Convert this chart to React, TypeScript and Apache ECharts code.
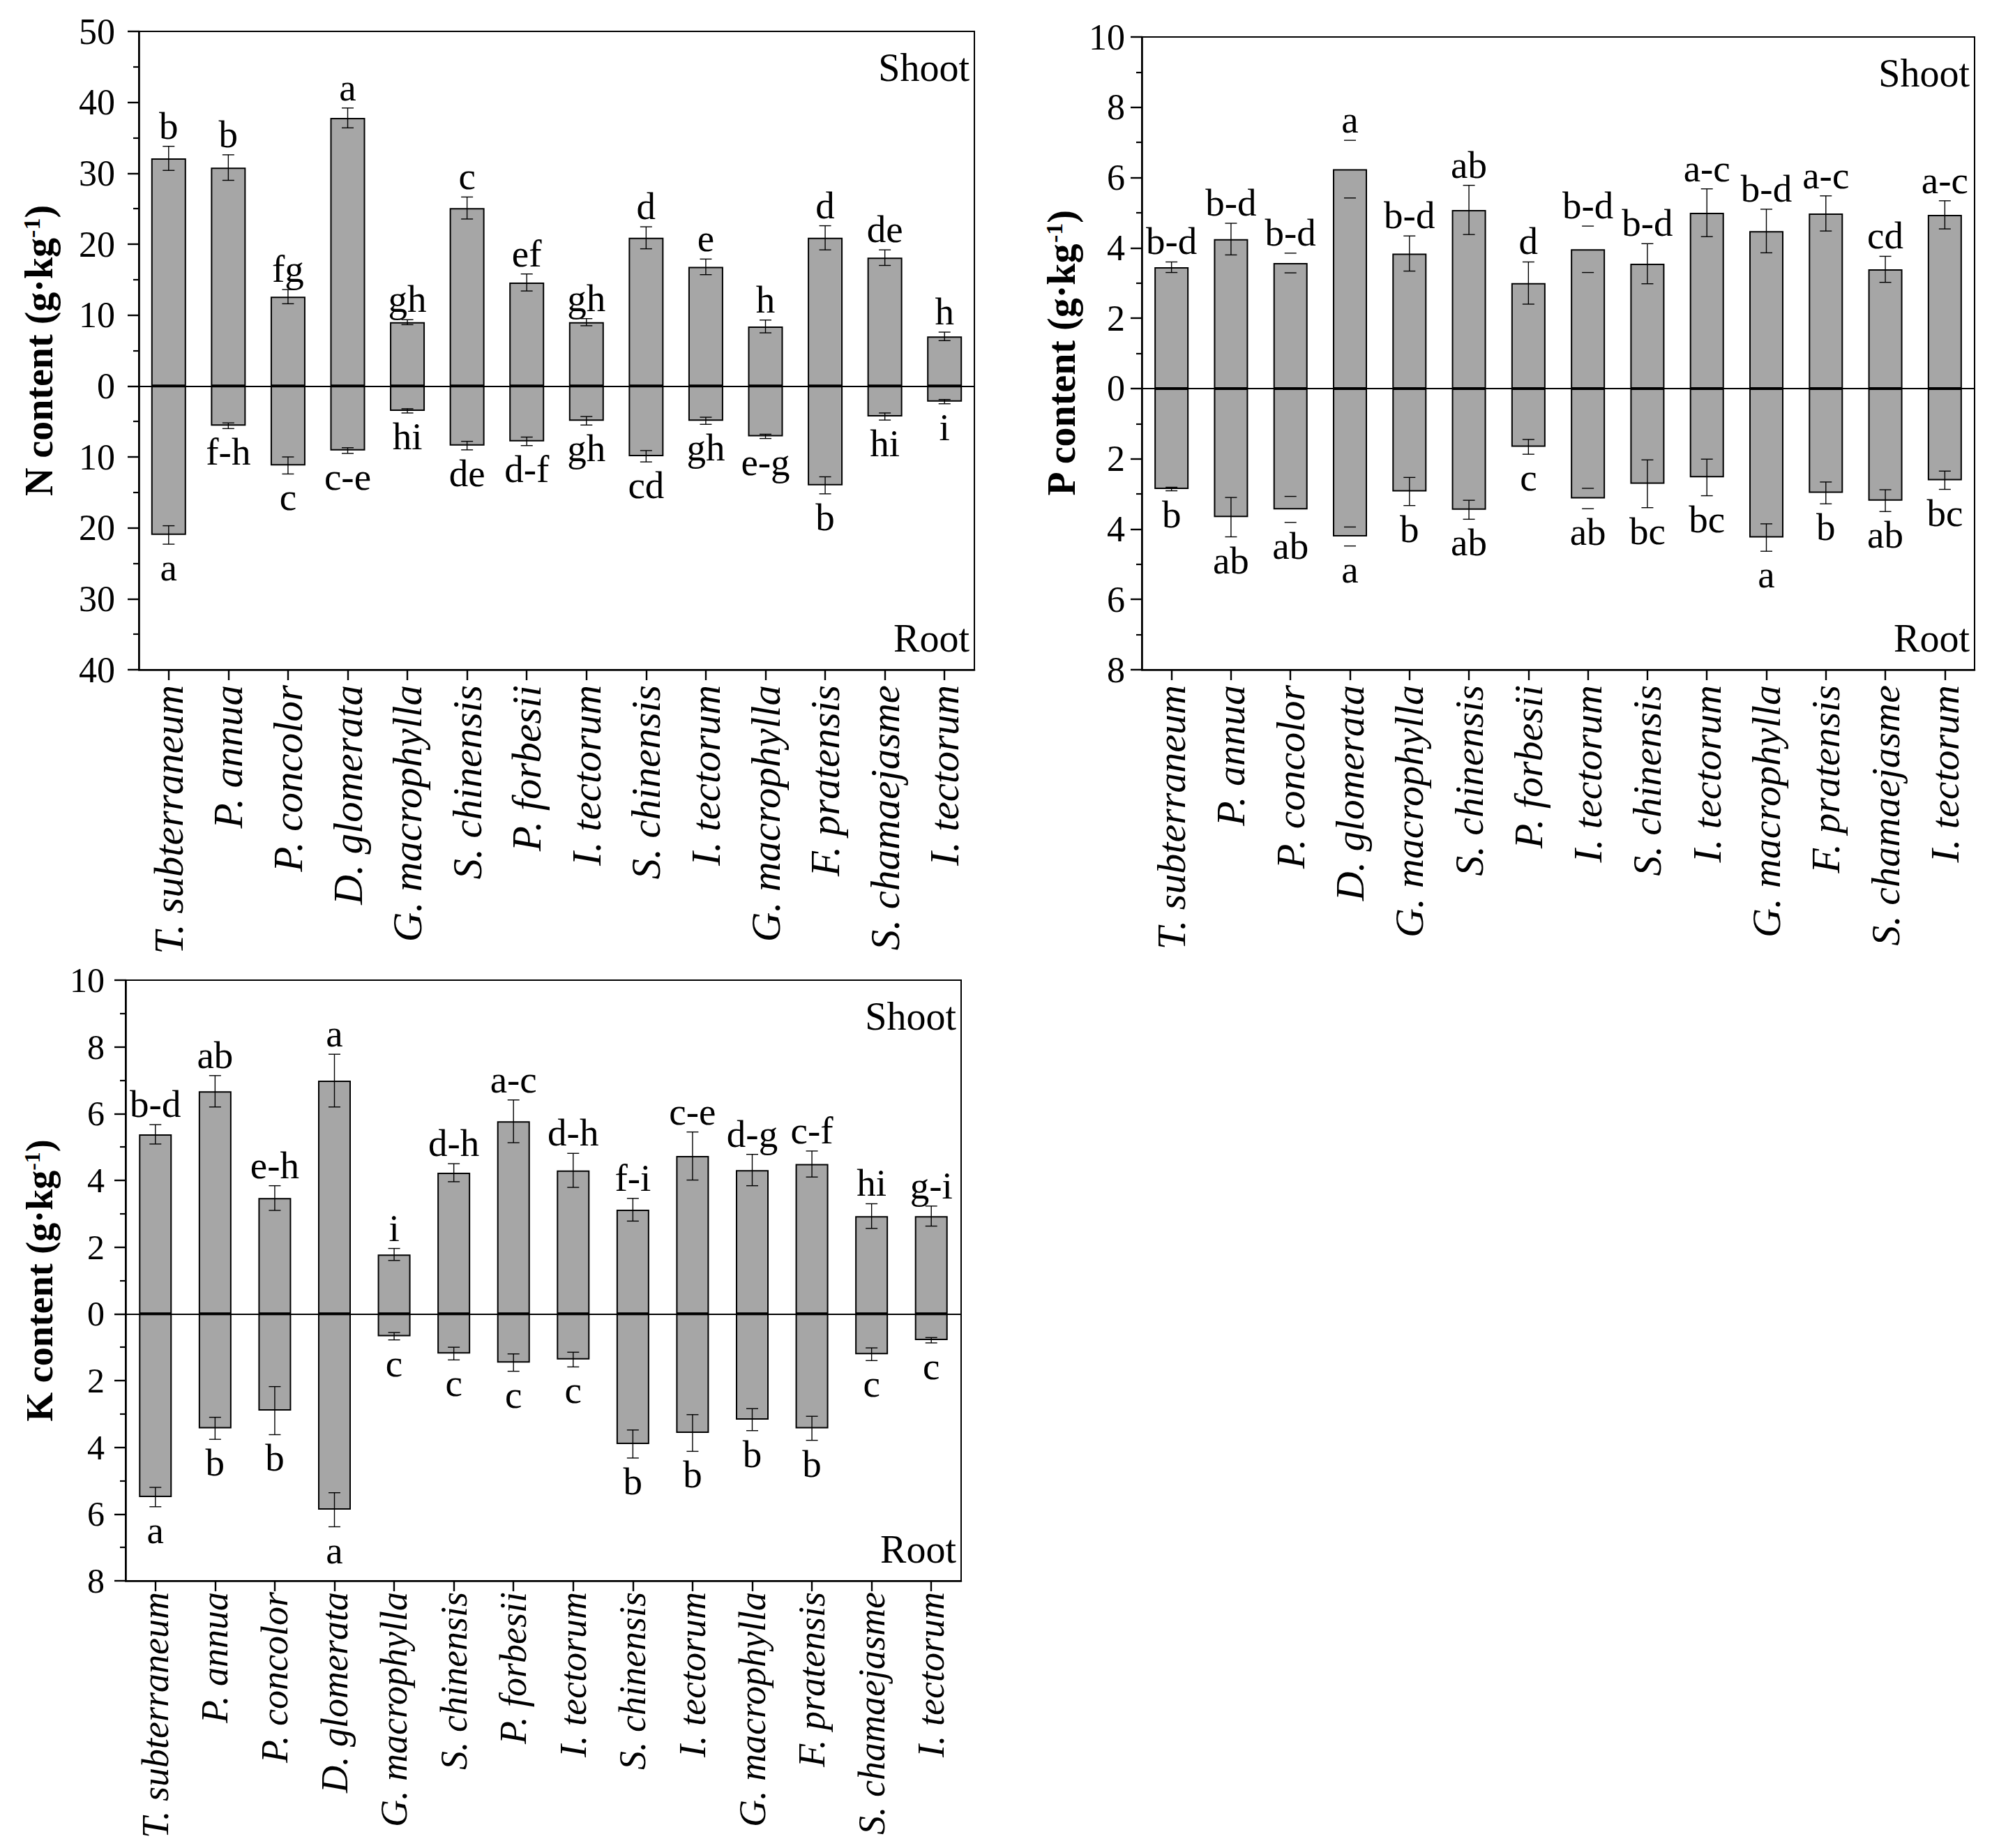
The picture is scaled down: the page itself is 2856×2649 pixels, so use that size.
import React, { useEffect, useRef } from 'react';
import * as echarts from 'echarts';

const W = 2856;
const H = 2649;
const FONT = '"Liberation Serif", "Times New Roman", Times, serif';

const species = ['T. subterraneum', 'P. annua', 'P. concolor', 'D. glomerata', 'G. macrophylla', 'S. chinensis', 'P. forbesii', 'I. tectorum', 'S. chinensis', 'I. tectorum', 'G. macrophylla', 'F. pratensis', 'S. chamaejasme', 'I. tectorum'];

// N content (g·kg-1)
const nShoot = [32.1, 30.8, 12.6, 37.8, 9.0, 25.1, 14.6, 9.0, 20.9, 16.8, 8.4, 20.9, 18.1, 7.0];
const nShootErr = [1.7, 1.8, 1.0, 1.4, 0.35, 1.55, 1.2, 0.5, 1.55, 1.1, 0.9, 1.7, 1.1, 0.6];
const nShootLetters = ['b', 'b', 'fg', 'a', 'gh', 'c', 'ef', 'gh', 'd', 'e', 'h', 'd', 'de', 'h'];
const nRoot = [21.0, 5.6, 11.2, 9.1, 3.5, 8.4, 7.8, 4.9, 9.9, 4.9, 7.1, 14.0, 4.3, 2.2];
const nRootErr = [1.3, 0.4, 1.2, 0.4, 0.3, 0.6, 0.6, 0.6, 0.8, 0.5, 0.3, 1.2, 0.5, 0.3];
const nRootLetters = ['a', 'f-h', 'c', 'c-e', 'hi', 'de', 'd-f', 'gh', 'cd', 'gh', 'e-g', 'b', 'hi', 'i'];
const nTicks = { min: -40, max: 50, interval: 10 };

// P content (g·kg-1)
const pShoot = [3.45, 4.25, 3.57, 6.24, 3.84, 5.08, 3.0, 3.96, 3.55, 5.0, 4.48, 4.98, 3.39, 4.94];
const pShootErr = [0.15, 0.45, 0.28, 0.82, 0.5, 0.7, 0.6, 0.66, 0.57, 0.68, 0.62, 0.5, 0.37, 0.4];
const pShootLetters = ['b-d', 'b-d', 'b-d', 'a', 'b-d', 'ab', 'd', 'b-d', 'b-d', 'a-c', 'b-d', 'a-c', 'cd', 'a-c'];
const pShootStem = [1, 1, 0, 0, 1, 1, 1, 0, 1, 1, 1, 1, 1, 1];
const pRoot = [2.86, 3.66, 3.44, 4.21, 2.93, 3.45, 1.66, 3.13, 2.71, 2.53, 4.24, 2.97, 3.19, 2.61];
const pRootErr = [0.05, 0.56, 0.37, 0.27, 0.4, 0.27, 0.21, 0.29, 0.68, 0.52, 0.39, 0.31, 0.31, 0.26];
const pRootLetters = ['b', 'ab', 'ab', 'a', 'b', 'ab', 'c', 'ab', 'bc', 'bc', 'a', 'b', 'ab', 'bc'];
const pRootStem = [1, 1, 0, 0, 1, 1, 1, 0, 1, 1, 1, 1, 1, 1];
const pTicks = { min: -8, max: 10, interval: 2 };

// K content (g·kg-1)
const kShoot = [5.38, 6.67, 3.47, 6.99, 1.78, 4.23, 5.77, 4.30, 3.12, 4.73, 4.31, 4.49, 2.93, 2.93];
const kShootErr = [0.29, 0.47, 0.37, 0.79, 0.18, 0.27, 0.64, 0.51, 0.34, 0.72, 0.47, 0.39, 0.37, 0.3];
const kShootLetters = ['b-d', 'ab', 'e-h', 'a', 'i', 'd-h', 'a-c', 'd-h', 'f-i', 'c-e', 'd-g', 'c-f', 'hi', 'g-i'];
const kRoot = [5.49, 3.43, 2.90, 5.87, 0.67, 1.19, 1.46, 1.37, 3.90, 3.57, 3.17, 3.43, 1.21, 0.79];
const kRootErr = [0.29, 0.33, 0.72, 0.51, 0.11, 0.19, 0.26, 0.22, 0.42, 0.55, 0.33, 0.36, 0.19, 0.08];
const kRootLetters = ['a', 'b', 'b', 'a', 'c', 'c', 'c', 'c', 'b', 'b', 'b', 'b', 'c', 'c'];
const kTicks = { min: -8, max: 10, interval: 2 };

const ones = species.map(() => 1);

type PanelDef = {
  el: string;
  ticks: { min: number; max: number; interval: number };
  frame: { left: number; top: number; right: number; bottom: number };
  barWidth: number;
  shoot: number[]; shootErr: number[]; shootLetters: string[]; shootStem: number[];
  root: number[]; rootErr: number[]; rootLetters: string[]; rootStem: number[];
  nameGap: number; nameSize: number;
  tickFont: number; tickMargin: number;
  catFont: number; catMargin: number;
};

const panels: PanelDef[] = [
  {
    el: 'N', ticks: nTicks,
    frame: { left: 199, top: 45, right: 1397, bottom: 960 },
    barWidth: 50,
    shoot: nShoot, shootErr: nShootErr, shootLetters: nShootLetters, shootStem: ones,
    root: nRoot, rootErr: nRootErr, rootLetters: nRootLetters, rootStem: ones,
    nameGap: 115, nameSize: 56, tickFont: 52, tickMargin: 34, catFont: 59, catMargin: 22,
  },
  {
    el: 'P', ticks: pTicks,
    frame: { left: 1637, top: 53, right: 2831, bottom: 960 },
    barWidth: 49,
    shoot: pShoot, shootErr: pShootErr, shootLetters: pShootLetters, shootStem: pShootStem,
    root: pRoot, rootErr: pRootErr, rootLetters: pRootLetters, rootStem: pRootStem,
    nameGap: 87, nameSize: 56, tickFont: 52, tickMargin: 24, catFont: 58, catMargin: 22,
  },
  {
    el: 'K', ticks: kTicks,
    frame: { left: 180, top: 1405, right: 1378, bottom: 2266 },
    barWidth: 47,
    shoot: kShoot, shootErr: kShootErr, shootLetters: kShootLetters, shootStem: ones,
    root: kRoot, rootErr: kRootErr, rootLetters: kRootLetters, rootStem: ones,
    nameGap: 96, nameSize: 54, tickFont: 50, tickMargin: 30, catFont: 54, catMargin: 16,
  },
];

function buildOption() {
  const grid: any[] = [];
  const xAxis: any[] = [];
  const yAxis: any[] = [];
  const series: any[] = [];
  const graphic: any[] = [];

  panels.forEach((p, k) => {
    const f = p.frame;
    const h = f.bottom - f.top;
    const w = f.right - f.left;
    grid.push({ left: f.left, top: f.top, width: w, height: h, show: true, borderColor: '#000', borderWidth: 2, backgroundColor: 'transparent', containLabel: false, outerBoundsMode: 'none' });
    grid.push({ left: f.left, top: f.top, width: w, height: h, show: false, containLabel: false, outerBoundsMode: 'none' });
    const gFrame = 2 * k;
    const gBars = 2 * k + 1;

    // zero line (x axis of the frame grid sits on zero)
    xAxis.push({
      gridIndex: gFrame, type: 'value', min: 0, max: 1, z: 5,
      axisLine: { show: true, onZero: true, lineStyle: { color: '#000', width: 2 } },
      axisTick: { show: false }, axisLabel: { show: false }, splitLine: { show: false },
    });
    yAxis.push({
      gridIndex: gFrame, type: 'value', min: p.ticks.min, max: p.ticks.max, interval: p.ticks.interval,
      axisLine: { show: true, onZero: false, lineStyle: { color: '#000', width: 2.6 } },
      axisTick: { show: true, inside: false, length: 16, lineStyle: { color: '#000', width: 2.4 } },
      minorTick: { show: true, splitNumber: 2, length: 8, lineStyle: { color: '#000', width: 2.2 } },
      axisLabel: { color: '#000', fontFamily: FONT, fontSize: p.tickFont, margin: p.tickMargin, formatter: (v: number) => String(Math.abs(v)) },
      splitLine: { show: false },
      name: `{t|${p.el} content (g·kg}{s|-1}{t|)}`,
      nameLocation: 'middle', nameGap: p.nameGap, nameRotate: 90,
      nameTextStyle: {
        rich: {
          t: { fontSize: p.nameSize, fontWeight: 'bold', fontFamily: FONT, color: '#000' },
          s: { fontSize: Math.round(p.nameSize * 0.6), fontWeight: 'bold', fontFamily: FONT, color: '#000', verticalAlign: 'top', lineHeight: Math.round(p.nameSize * 0.6) },
        },
      },
    });
    const xBarIdx = xAxis.length;
    xAxis.push({
      gridIndex: gBars, type: 'category', data: species,
      axisLine: { show: true, onZero: false, lineStyle: { color: '#000', width: 2.6 } },
      axisTick: { show: true, alignWithLabel: true, length: 15, lineStyle: { color: '#000', width: 2.4 } },
      axisLabel: { rotate: 90, interval: 0, fontStyle: 'italic', fontFamily: FONT, fontSize: p.catFont, color: '#000', margin: p.catMargin },
      splitLine: { show: false },
    });
    const yBarIdx = yAxis.length;
    yAxis.push({ gridIndex: gBars, type: 'value', min: p.ticks.min, max: p.ticks.max, show: false, splitLine: { show: false } });

    const barStyle = { color: '#a6a6a6', borderColor: '#000', borderWidth: 2 };
    series.push({ type: 'bar', xAxisIndex: xBarIdx, yAxisIndex: yBarIdx, stack: 's' + k, barWidth: p.barWidth, data: p.shoot, itemStyle: barStyle });
    series.push({ type: 'bar', xAxisIndex: xBarIdx, yAxisIndex: yBarIdx, stack: 's' + k, barWidth: p.barWidth, data: p.root.map((v) => -v), itemStyle: barStyle });

    const letters: string[] = [];
    const items: number[][] = [];
    p.shoot.forEach((v, i) => { items.push([i, v, p.shootErr[i], 1, p.shootStem[i]]); letters.push(p.shootLetters[i]); });
    p.root.forEach((v, i) => { items.push([i, -v, p.rootErr[i], -1, p.rootStem[i]]); letters.push(p.rootLetters[i]); });

    series.push({
      type: 'custom', xAxisIndex: xBarIdx, yAxisIndex: yBarIdx, z: 4, data: items,
      renderItem: (params: any, api: any) => {
        const i = api.value(0);
        const v = api.value(1);
        const e = api.value(2);
        const side = api.value(3);
        const stem = api.value(4);
        const a = api.coord([i, v + e]);
        const b = api.coord([i, v - e]);
        const x = a[0];
        const cap = 8.5;
        const ls = { stroke: '#000', lineWidth: 1.4 };
        const children: any[] = [];
        if (stem) children.push({ type: 'line', shape: { x1: x, y1: a[1], x2: x, y2: b[1] }, style: ls });
        children.push({ type: 'line', shape: { x1: x - cap, y1: a[1], x2: x + cap, y2: a[1] }, style: ls });
        children.push({ type: 'line', shape: { x1: x - cap, y1: b[1], x2: x + cap, y2: b[1] }, style: ls });
        const up = side > 0;
        children.push({
          type: 'text',
          style: {
            text: letters[params.dataIndex], x, y: up ? a[1] - 2 : b[1] + 6,
            fill: '#000', fontSize: 55, fontFamily: FONT,
            align: 'center', textAlign: 'center',
            verticalAlign: up ? 'bottom' : 'top', textVerticalAlign: up ? 'bottom' : 'top',
          },
        });
        return { type: 'group', children };
      },
    });

    const tx = f.right - 7;
    graphic.push({ type: 'text', x: tx, y: f.top + 52, style: { text: 'Shoot', x: 0, y: 0, fill: '#000', fontSize: 56, fontFamily: FONT, align: 'right', textAlign: 'right', verticalAlign: 'middle', textVerticalAlign: 'middle' } });
    graphic.push({ type: 'text', x: tx, y: f.bottom - 45, style: { text: 'Root', x: 0, y: 0, fill: '#000', fontSize: 56, fontFamily: FONT, align: 'right', textAlign: 'right', verticalAlign: 'middle', textVerticalAlign: 'middle' } });
  });

  return { animation: false, backgroundColor: '#fff', grid, xAxis, yAxis, series, graphic };
}

export default function App() {
  const ref = useRef<HTMLDivElement>(null);
  useEffect(() => {
    const chart = echarts.init(ref.current!, null, { renderer: 'svg' });
    chart.setOption(buildOption() as any);
    return () => chart.dispose();
  }, []);
  return <div ref={ref} style={{ position: 'fixed', left: 0, top: 0, width: W + 'px', height: H + 'px', background: '#fff' }} />;
}
